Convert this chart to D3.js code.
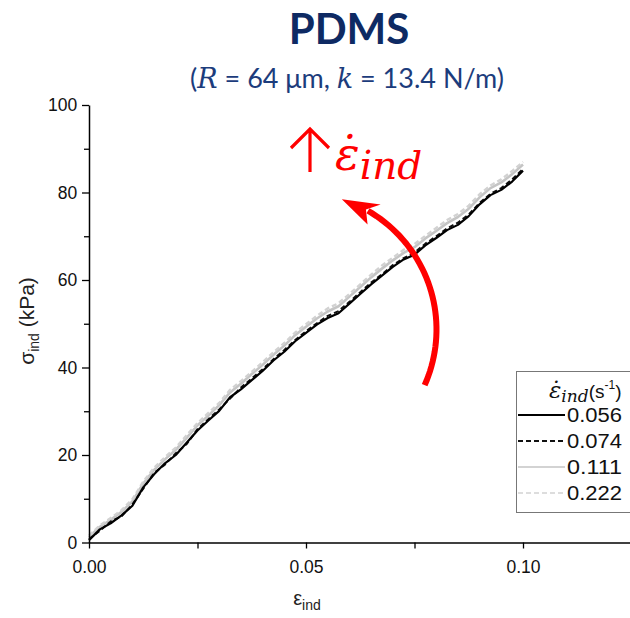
<!DOCTYPE html>
<html>
<head>
<meta charset="utf-8">
<script src="https://cdn.jsdelivr.net/npm/d3@7"></script>
<style>
  body { margin: 0; background: #fff; }
  svg { display: block; }
</style>
</head>
<body>
<svg id="chart"></svg>
<script>
"use strict";

// strain steps shared by every curve
const strain = [0, .0025, .005, .0075, .01, .0125, .015, .0175, .02, .0225, .025, .0275, .03, .0325, .035, .0375, .04,
    .0425, .045, .0475, .05, .0525, .055, .0575, .06, .0625, .065, .0675, .07, .0725, .075, .0775, .08, .0825, .085,
    .0875, .09, .0925, .095, .0975, .1];

const s056 = [0.5, 3.0, 4.4, 6.2, 8.4, 12.6, 15.6, 18.1, 20.0, 22.8, 25.6, 27.9, 30.1, 33.2, 35.0, 37.1, 39.2, 41.6,
    43.6, 46.0, 47.9, 49.8, 51.3, 52.4, 54.6, 56.8, 59.0, 61.0, 63.0, 64.7, 65.8, 67.9, 69.6, 71.4, 72.6, 74.6, 77.3,
    79.4, 80.6, 82.5, 85.0];
const s074 = [0.8, 2.7, 4.8, 6.0, 8.7, 12.3, 15.9, 17.8, 20.4, 22.5, 25.9, 28.2, 30.4, 32.9, 35.4, 37.5, 39.6, 41.9,
    44.0, 46.3, 48.3, 50.1, 51.8, 52.9, 55.0, 57.2, 59.4, 61.3, 63.4, 65.0, 66.3, 68.3, 70.0, 71.8, 73.1, 75.0, 77.6,
    79.7, 81.0, 83.0, 85.4];
const s111 = [1.2, 3.6, 5.2, 7.0, 9.4, 13.5, 16.6, 19.0, 21.2, 23.9, 26.8, 29.0, 31.4, 34.3, 36.3, 38.5, 40.6, 42.9,
    45.0, 47.4, 49.3, 51.2, 52.8, 54.0, 56.2, 58.4, 60.6, 62.6, 64.5, 66.2, 67.5, 69.5, 71.2, 73.0, 74.4, 76.3, 78.9,
    81.0, 82.3, 84.2, 86.4];
const s222 = [1.6, 3.9, 5.6, 7.4, 9.9, 13.9, 17.1, 19.5, 21.7, 24.5, 27.3, 29.6, 31.9, 34.9, 36.9, 39.0, 41.2, 43.5,
    45.6, 48.0, 49.9, 51.8, 53.5, 54.7, 56.8, 59.0, 61.2, 63.3, 65.1, 66.9, 68.2, 70.1, 71.9, 73.7, 75.1, 77.0, 79.6,
    81.6, 83.0, 84.9, 87.0];

const rateLabels = ["0.056", "0.074", "0.111", "0.222"];
const xTicks = [0, 0.05, 0.10];
const xTickLabels = ["0.00", "0.05", "0.10"];
const xMinor = [0.025, 0.075, 0.125];
const yTicks = [0, 20, 40, 60, 80, 100];
const yMinor = [10, 30, 50, 70, 90];

const width = 630, height = 618;
const axisFont = "'Liberation Sans', Arial, sans-serif";
const mathFont = "'DejaVu Serif', 'Liberation Serif', serif";

const svg = d3.select("#chart").attr("width", width).attr("height", height);

const x = d3.scaleLinear().domain([0, 0.14]).range([89, 89 + 0.14 * 4340]);
const y = d3.scaleLinear().domain([0, 100]).range([542.5, 105]);

// title
svg.append("text")
    .attr("x", 349).attr("y", 44)
    .attr("text-anchor", "middle")
    .attr("font-family", "Lato, 'Open Sans', sans-serif")
    .attr("font-weight", "bold")
    .attr("font-size", 42)
    .attr("fill", "#0e2a63")
    .text("PDMS");

let sub = svg.append("text")
    .attr("x", 347).attr("y", 88)
    .attr("text-anchor", "middle")
    .attr("font-family", "Lato, 'Open Sans', sans-serif")
    .attr("font-size", 27)
    .attr("fill", "#1c3c7c");
sub.append("tspan").text("(");
sub.append("tspan").attr("font-family", mathFont).attr("font-style", "italic").text("R");
sub.append("tspan").text(" = 64 μm, ");
sub.append("tspan").attr("font-family", mathFont).attr("font-style", "italic").text("k");
sub.append("tspan").text(" = 13.4 N/m)");

// curves: grey ones below, black on top
const series = [
    {vals: s111, color: "#c4c4c4", dash: null, w: 2.6},
    {vals: s222, color: "#d2d2d2", dash: "5,3", w: 2.4},
    {vals: s074, color: "#111", dash: "5,3", w: 2},
    {vals: s056, color: "#000", dash: null, w: 2.2}
];

const line = d3.line()
    .x((d, i) => x(strain[i]))
    .y(d => y(d));

series.forEach(s => {
    svg.append("path")
        .attr("d", line(s.vals))
        .attr("fill", "none")
        .attr("stroke", s.color)
        .attr("stroke-width", s.w)
        .attr("stroke-dasharray", s.dash)
        .attr("stroke-linejoin", "round");
});

// axes
const xAxis = svg.append("g").attr("transform", `translate(0,${y(0)})`)
    .call(d3.axisBottom(x).tickValues(xTicks).tickFormat((d, i) => xTickLabels[i]).tickSize(6).tickSizeOuter(0));
svg.append("g").attr("transform", `translate(0,${y(0)})`)
    .call(d3.axisBottom(x).tickValues(xMinor).tickFormat("").tickSize(6).tickSizeOuter(0))
    .select(".domain").remove();

const yAxis = svg.append("g").attr("transform", `translate(${x(0)},0)`)
    .call(d3.axisLeft(y).tickValues(yTicks).tickSize(7).tickSizeOuter(0));
svg.append("g").attr("transform", `translate(${x(0)},0)`)
    .call(d3.axisLeft(y).tickValues(yMinor).tickFormat("").tickSize(5).tickSizeOuter(0))
    .select(".domain").remove();

svg.selectAll(".domain").attr("stroke-width", 1.5);
svg.selectAll(".tick line").attr("stroke-width", 1.3);
xAxis.selectAll("text").attr("font-family", axisFont).attr("font-size", 17.5).attr("dy", "1.25em").attr("fill", "#111");
yAxis.selectAll("text").attr("font-family", axisFont).attr("font-size", 17.5).attr("dx", "-0.1em").attr("fill", "#111");

// axis titles
let yl = svg.append("text")
    .attr("transform", "translate(34,321) rotate(-90)")
    .attr("text-anchor", "middle")
    .attr("font-family", axisFont)
    .attr("font-size", 21)
    .attr("fill", "#222");
yl.append("tspan").text("σ");
yl.append("tspan").attr("font-size", 14).attr("dy", 5).text("ind");
yl.append("tspan").attr("dy", -5).text(" (kPa)");

let xl = svg.append("text")
    .attr("x", 307).attr("y", 605)
    .attr("text-anchor", "middle")
    .attr("font-family", axisFont)
    .attr("font-size", 20)
    .attr("fill", "#222");
xl.append("tspan").text("ε");
xl.append("tspan").attr("font-size", 14).attr("dy", 5).text("ind");

// red curved arrow, drawn in data units
const arc0 = {cx: 0.0485, cy: 48.7, r: 137};
const cx = x(arc0.cx), cy = y(arc0.cy);
const a1 = 24 * Math.PI / 180, a2 = -60 * Math.PI / 180;
const arcPts = d3.range(0, 41).map(i => {
    let a = a1 + (a2 - a1) * i / 40;
    return [cx + arc0.r * Math.cos(a), cy + arc0.r * Math.sin(a)];
});
svg.append("path")
    .attr("d", d3.line()(arcPts))
    .attr("fill", "none")
    .attr("stroke", "#ff0000")
    .attr("stroke-width", 6);

// arrow head: tip further along the arc, tangent direction
const rad = a => a * Math.PI / 180;
const onArc = a => [cx + arc0.r * Math.cos(rad(a)), cy + arc0.r * Math.sin(rad(a))];
const tip = onArc(-72), base = onArc(-57), notch = onArc(-61);
const nx = Math.cos(rad(-57)), ny = Math.sin(rad(-57));
svg.append("path")
    .attr("d", d3.line()([tip, [base[0] + nx * 12, base[1] + ny * 12], notch, [base[0] - nx * 12, base[1] - ny * 12]]) + "Z")
    .attr("fill", "#ff0000");

// red label: thin up arrow then strain-rate symbol
svg.append("path")
    .attr("d", "M310,172V129M291,148L310,129L329,148")
    .attr("fill", "none")
    .attr("stroke", "#ff0000")
    .attr("stroke-width", 3.2);
let rl = svg.append("text")
    .attr("x", 335).attr("y", 170)
    .attr("font-family", mathFont)
    .attr("font-style", "italic")
    .attr("fill", "#ff0000");
rl.append("tspan").attr("font-size", 46).text("ε̇");
rl.append("tspan").attr("font-size", 39).attr("dy", 9).text("ind");

// legend
const lg = svg.append("g");
lg.append("rect")
    .attr("x", 516.5).attr("y", 371.5)
    .attr("width", 130).attr("height", 141)
    .attr("fill", "#fff")
    .attr("stroke", "#777")
    .attr("stroke-width", 1);
let lh = lg.append("text").attr("x", 549).attr("y", 398).attr("fill", "#111");
lh.append("tspan").attr("font-family", mathFont).attr("font-style", "italic").attr("font-size", 23).text("ε̇");
lh.append("tspan").attr("font-family", mathFont).attr("font-style", "italic").attr("font-size", 17).attr("dy", 4).text("ind");
lh.append("tspan").attr("font-family", axisFont).attr("font-size", 19).attr("dy", -4).text("(s");
lh.append("tspan").attr("font-family", axisFont).attr("font-size", 12).attr("dy", -9).text("-1");
lh.append("tspan").attr("font-family", axisFont).attr("font-size", 19).attr("dy", 9).text(")");

const legendOrder = [3, 2, 0, 1];  // series index for each label
rateLabels.forEach((lab, i) => {
    let s = series[legendOrder[i]];
    let yy = 415 + i * 26;
    lg.append("line")
        .attr("x1", 518).attr("x2", 565)
        .attr("y1", yy).attr("y2", yy)
        .attr("stroke", s.color)
        .attr("stroke-width", i < 2 ? 2 : 1.6)
        .attr("stroke-dasharray", s.dash);
    lg.append("text")
        .attr("x", 567).attr("y", yy + 7)
        .attr("font-family", axisFont)
        .attr("font-size", 20)
        .attr("textLength", 55)
        .attr("lengthAdjust", "spacingAndGlyphs")
        .attr("fill", "#111")
        .text(lab);
});
</script>
</body>
</html>
